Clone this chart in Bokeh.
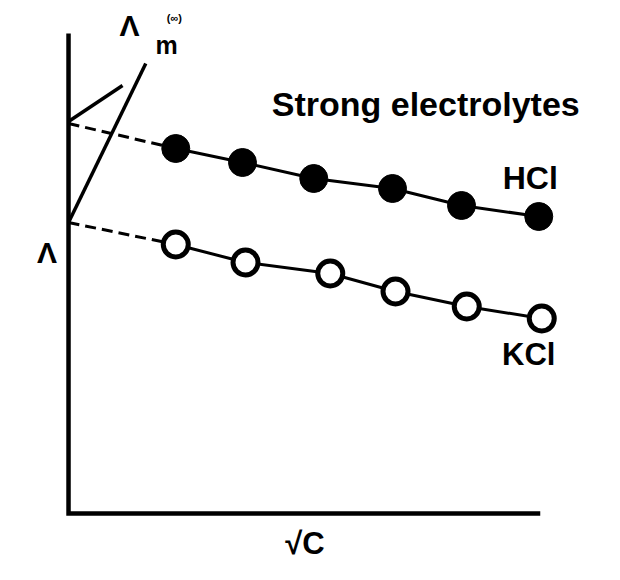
from bokeh.plotting import figure
from bokeh.models import Range1d
from bokeh.core.properties import value
from bokeh.embed import file_html
from bokeh.resources import INLINE

# ---- data (arbitrary units) ----
hcl_x = [1.43, 2.32, 3.27, 4.32, 5.24, 6.27]
hcl_y = [7.30, 7.02, 6.70, 6.50, 6.16, 5.94]
kcl_x = [1.43, 2.36, 3.49, 4.36, 5.31, 6.31]
kcl_y = [5.38, 5.02, 4.80, 4.44, 4.14, 3.90]
hcl_intercept = 7.80
kcl_intercept = 5.82
# limiting (Λm∞) construction lines
lim_long_x = [0.0, 1.03]
lim_long_y = [5.82, 9.00]
lim_short_x = [0.0, 0.72]
lim_short_y = [7.84, 8.56]
x_axis_end = 6.29
y_axis_end = 9.60

FONT = value("Liberation Sans")

p = figure(width=620, height=580, x_range=Range1d(-0.907, 7.36), y_range=Range1d(-1.34, 10.26),
           output_backend="svg", toolbar_location=None,
           min_border_left=0, min_border_right=0, min_border_top=0, min_border_bottom=0)
p.axis.visible = False
p.outline_line_color = None
p.grid.visible = False
p.background_fill_color = "white"
p.border_fill_color = "white"

# axes (L shaped, no ticks)
p.line([0, 0, x_axis_end], [y_axis_end, 0, 0], line_width=4.5, line_color="black", line_join="miter")

# construction lines
p.line(lim_long_x, lim_long_y, line_width=3.5, line_color="black")
p.line(lim_short_x, lim_short_y, line_width=3.5, line_color="black")

# extrapolations (dashed)
p.line([0, hcl_x[0]], [hcl_intercept, hcl_y[0]], line_width=3, line_color="black", line_dash="11 6")
p.line([0, kcl_x[0]], [kcl_intercept, kcl_y[0]], line_width=3, line_color="black", line_dash="11 6")

# data lines
p.line(hcl_x, hcl_y, line_width=3, line_color="black")
p.line(kcl_x, kcl_y, line_width=3, line_color="black")

# markers
p.scatter(hcl_x, hcl_y, size=28, fill_color="black", line_color="black", line_width=1)
p.scatter(kcl_x, kcl_y, size=25, fill_color="white", line_color="black", line_width=5)

# texts
def txt(x, y, s, size):
    p.text(x=[x], y=[y], text=[s], text_font=FONT, text_font_size=size,
           text_font_style="bold", text_baseline="alphabetic", text_align="left", text_color="black")

txt(2.71, 8.20, "Strong electrolytes", "34px")
txt(5.79, 6.72, "HCl", "32px")
txt(5.78, 3.18, "KCl", "31px")
txt(0.68, 9.76, "Λ", "30px")
txt(1.16, 9.38, "m", "25px")
txt(1.31, 9.92, "(∞)", "11px")
txt(2.89, -0.60, "√C", "31px")
txt(-0.42, 5.22, "Λ", "30px")

open("out.html", "w").write(file_html(p, INLINE))
